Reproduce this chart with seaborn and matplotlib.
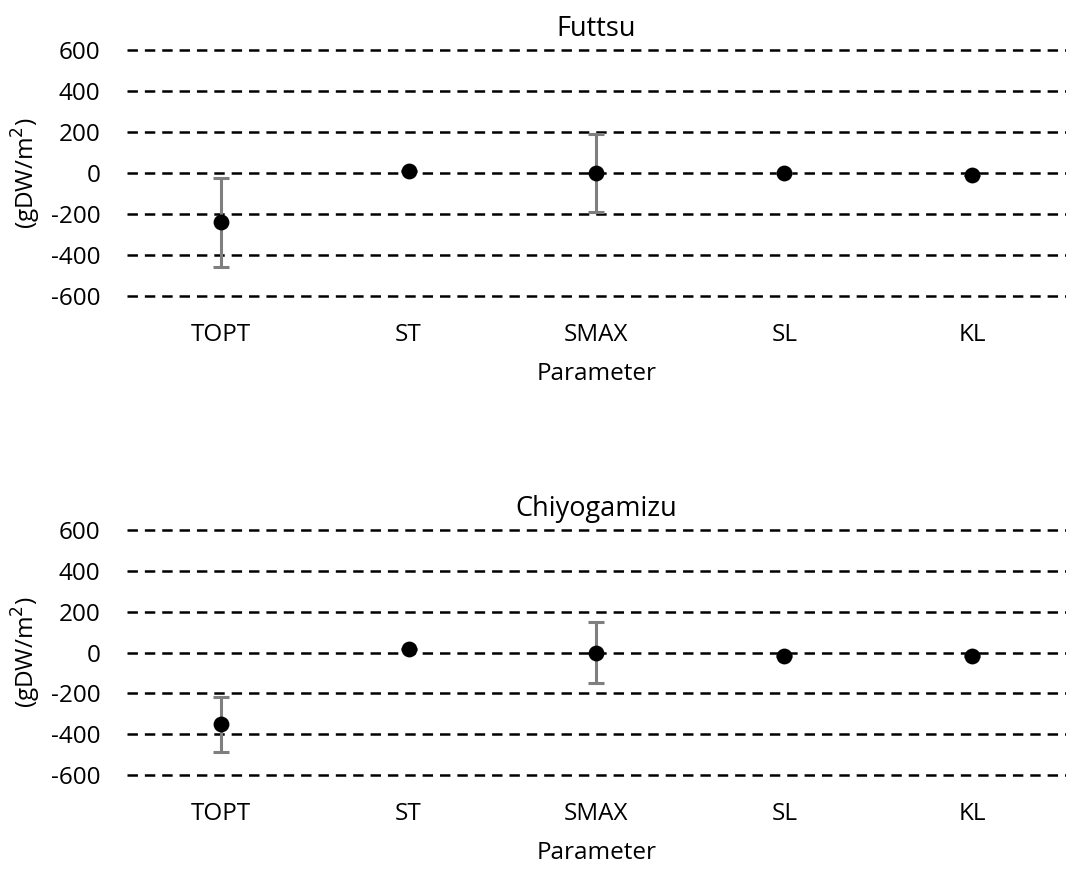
import matplotlib
matplotlib.use("Agg")
import matplotlib.pyplot as plt
import seaborn as sns
import pandas as pd

# Sensitivity of biomass to each model parameter
parameters = ["TOPT", "ST", "SMAX", "SL", "KL"]
futtsu_mean = [-240, 10, 0, 0, -10]
futtsu_err = [217, 0, 188, 0, 0]
chiyo_mean = [-350, 20, 0, -15, -15]
chiyo_err = [135, 0, 150, 0, 0]
y_ticks = [-600, -400, -200, 0, 200, 400, 600]

sns.set_theme(style="white")
plt.rcParams["font.family"] = ["Open Sans", "DejaVu Sans"]
plt.rcParams["lines.scale_dashes"] = False

fig = plt.figure(figsize=(10.66, 8.69), dpi=100)
ax_top = fig.add_axes([0.119, 0.659, 0.881, 0.284])
ax_bot = fig.add_axes([0.119, 0.108, 0.881, 0.282])

panels = [
    (ax_top, "Futtsu", futtsu_mean, futtsu_err),
    (ax_bot, "Chiyogamizu", chiyo_mean, chiyo_err),
]

FS = 17.5

for ax, title, mean, err in panels:
    df = pd.DataFrame({"Parameter": parameters, "value": mean, "err": err})
    for y in y_ticks:
        ax.axhline(y, color="black", lw=1.8, dashes=(7.5, 5), clip_on=False, zorder=1)
    ax.errorbar(df["Parameter"], df["value"], yerr=df["err"], fmt="none",
                ecolor="#7f7f7f", elinewidth=2.2, capsize=5.5, capthick=2.2, zorder=2)
    sns.scatterplot(data=df, x="Parameter", y="value", ax=ax, color="black",
                    s=130, edgecolor="black", linewidth=0, zorder=3)
    ax.set_xlim(-0.5, len(parameters) - 0.5)
    ax.set_ylim(-600, 600)
    ax.set_yticks(y_ticks)
    ax.set_yticklabels([str(v) for v in y_ticks])
    for s in ax.spines.values():
        s.set_visible(False)
    ax.tick_params(axis="both", length=0, labelsize=FS, colors="black")
    ax.tick_params(axis="y", pad=19)
    ax.tick_params(axis="x", pad=19)
    ax.set_title(title, fontsize=19.5, pad=10, color="black")
    ax.set_xlabel("Parameter", fontsize=FS, labelpad=11, color="black")
    ax.set_ylabel("(gDW/m$^2$)", fontsize=FS, labelpad=6, color="black")
    ax.grid(False)

fig.savefig("out.png", dpi=100)
